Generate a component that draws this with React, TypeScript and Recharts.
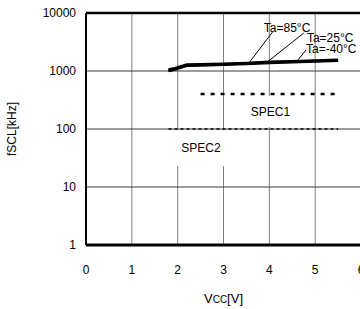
import {
  CartesianGrid,
  Line,
  LineChart,
  ReferenceArea,
  ReferenceDot,
  ReferenceLine,
  XAxis,
  YAxis
} from "recharts";

const FONT = "'Liberation Sans', Arial, sans-serif";

// supply voltage [V]
const voltage = [1.8, 1.9, 2.2, 2.5, 3, 3.5, 4, 4.5, 5, 5.5];
// max fSCL [kHz] per ambient temperature
const fTa85 = [1060, 1100, 1290, 1310, 1340, 1380, 1440, 1480, 1520, 1560];
const fTa25 = [1020, 1060, 1260, 1280, 1310, 1350, 1410, 1450, 1490, 1530];
const fTaM40 = [1000, 1040, 1230, 1250, 1280, 1320, 1380, 1420, 1460, 1500];

const spec1Volt = [2.5, 5.5];
const spec1Freq = [400, 400];
const spec2Volt = [1.8, 5.5];
const spec2Freq = [100, 100];

const xTicks = [0, 1, 2, 3, 4, 5, 6];
const yTicks = [1, 10, 100, 1000, 10000];

const curveLabels = ["Ta=85°C", "Ta=25°C", "Ta=-40°C"];
const labelAt = [
  { x: 3.88, y: 5500 },
  { x: 4.82, y: 3700 },
  { x: 4.8, y: 2390 }
];
const leaderTop = [
  { x: 4.07, y: 4700 },
  { x: 4.75, y: 4500 },
  { x: 4.8, y: 2300 }
];
const leaderEnd = [
  { x: 3.55, y: 1360 },
  { x: 3.94, y: 1400 },
  { x: 4.58, y: 1400 }
];

const rows = voltage.map((v, i) => ({
  v,
  ta85: fTa85[i],
  ta25: fTa25[i],
  taM40: fTaM40[i]
}));
const spec1 = spec1Volt.map((v, i) => ({ v, f: spec1Freq[i] }));
const spec2 = spec2Volt.map((v, i) => ({ v, f: spec2Freq[i] }));

const tickStyle = { fill: "#000", fontSize: 12, fontFamily: FONT };

function XLabel({ viewBox }: any) {
  const cx = viewBox.x + viewBox.width / 2;
  return (
    <text x={cx} y={303} textAnchor="middle" fontFamily={FONT} fontSize={13} fill="#000">
      V<tspan fontSize={10}>CC</tspan>[V]
    </text>
  );
}

function YLabel() {
  return (
    <text
      x={16}
      y={129}
      transform="rotate(-90 16 129)"
      textAnchor="middle"
      fontFamily={FONT}
      fontSize={12}
      fill="#000"
    >
      fSCL[kHz]
    </text>
  );
}

export default function App() {
  return (
    <div style={{ position: "absolute", left: 0, top: 0, width: 360, height: 309, overflow: "hidden", background: "#fff" }}>
      <LineChart width={380} height={309} data={rows} margin={{ top: 13, right: 19, bottom: 0, left: 0 }}>
        <CartesianGrid horizontal={false} stroke="#808080" strokeWidth={1} />
        <CartesianGrid vertical={false} stroke="#3a3a3a" strokeWidth={1} />
        <XAxis
          dataKey="v"
          type="number"
          domain={[0, 6]}
          ticks={xTicks}
          height={64}
          tickLine={false}
          tickSize={0}
          tickMargin={20}
          tick={tickStyle}
          axisLine={{ stroke: "#000", strokeWidth: 3 }}
          label={<XLabel />}
        />
        <YAxis
          type="number"
          scale="log"
          domain={[1, 10000]}
          ticks={yTicks}
          width={86}
          allowDataOverflow
          tickLine={false}
          tickSize={0}
          tickMargin={10}
          tick={tickStyle}
          axisLine={{ stroke: "#000", strokeWidth: 2 }}
          label={<YLabel />}
        />
        <ReferenceLine y={10000} stroke="#000" strokeWidth={2.5} />
        <ReferenceArea
          x1={3.48}
          x2={4.57}
          y1={108}
          y2={370}
          fill="#fff"
          fillOpacity={1}
          stroke="none"
          label={{ value: "SPEC1", position: "center", fill: "#000", fontSize: 12, fontFamily: FONT }}
        />
        <ReferenceArea
          x1={1.95}
          x2={3.07}
          y1={23}
          y2={95}
          fill="#fff"
          fillOpacity={1}
          stroke="none"
          label={{ value: "SPEC2", position: "center", fill: "#000", fontSize: 12, fontFamily: FONT }}
        />
        <Line data={spec2} dataKey="f" stroke="#000" strokeWidth={1.5} strokeDasharray="3 3" dot={false} isAnimationActive={false} />
        <Line data={spec1} dataKey="f" stroke="#000" strokeWidth={2.5} strokeDasharray="4 6" dot={false} isAnimationActive={false} />
        <Line dataKey="taM40" stroke="#000" strokeWidth={2.5} dot={false} isAnimationActive={false} />
        <Line dataKey="ta25" stroke="#000" strokeWidth={2.5} dot={false} isAnimationActive={false} />
        <Line dataKey="ta85" stroke="#000" strokeWidth={2.5} dot={false} isAnimationActive={false} />
        {curveLabels.map((t, i) => (
          <ReferenceLine
            key={"l" + t}
            segment={[leaderEnd[i], leaderTop[i]]}
            stroke="#000"
            strokeWidth={1}
          />
        ))}
        {curveLabels.map((t, i) => (
          <ReferenceDot
            key={"d" + t}
            x={labelAt[i].x}
            y={labelAt[i].y}
            r={0}
            stroke="none"
            fill="none"
            label={{ value: t, position: "right", offset: 0, fill: "#000", fontSize: 12, fontFamily: FONT }}
          />
        ))}
      </LineChart>
    </div>
  );
}
